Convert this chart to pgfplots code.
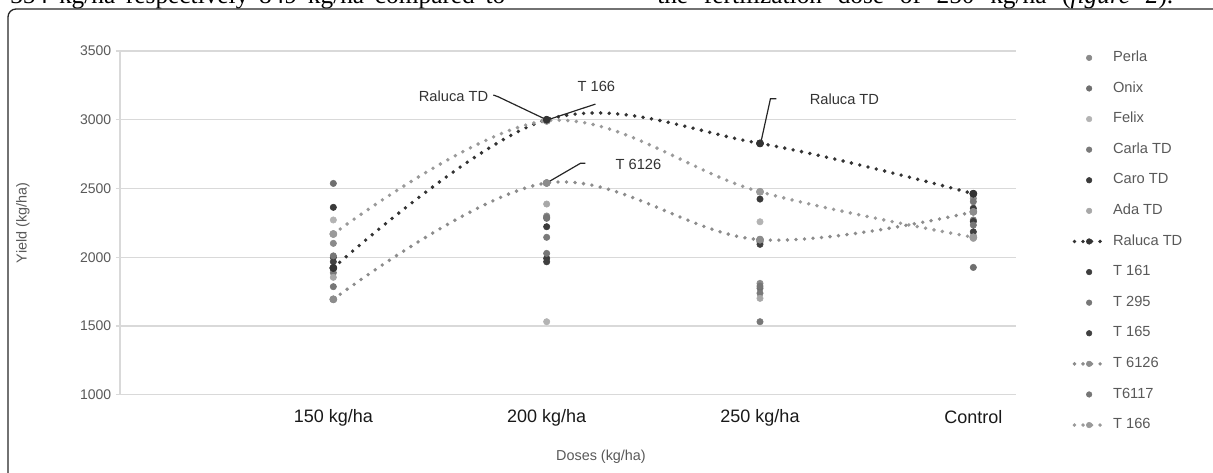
\documentclass[border=0pt]{standalone}
\usepackage{fontspec}
\setmainfont{Liberation Sans}
\newfontfamily\pagefont{Liberation Serif}
\usepackage{pgfplots}
\pgfplotsset{compat=1.18}

\definecolor{cPerla}{HTML}{8A8A8A}
\definecolor{cOnix}{HTML}{6F6F6F}
\definecolor{cFelix}{HTML}{B3B3B3}
\definecolor{cCarla}{HTML}{7A7A7A}
\definecolor{cCaro}{HTML}{3A3A3A}
\definecolor{cAda}{HTML}{A8A8A8}
\definecolor{cRaluca}{HTML}{333333}
\definecolor{cTa}{HTML}{3D3D3D}
\definecolor{cTb}{HTML}{777777}
\definecolor{cTc}{HTML}{404040}
\definecolor{cTd}{HTML}{8C8C8C}
\definecolor{cTe}{HTML}{767676}
\definecolor{cTf}{HTML}{9A9A9A}
\definecolor{txtgray}{HTML}{595959}
\definecolor{gridgray}{HTML}{D9D9D9}

\pgfplotsset{
  dot/.style={only marks, color=#1, mark=*, mark size=2.4pt,
    mark options={line width=0.4pt, draw=#1, fill=#1}},
  dotline/.style={color=#1, line width=2.9pt, line cap=round, dash pattern=on 0pt off 6.4pt,
    smooth, tension=0.6, mark=*, mark size=2.6pt,
    mark options={solid, line width=0.4pt, draw=#1, fill=#1}},
}

\begin{document}
\begin{tikzpicture}
\useasboundingbox (0,0) rectangle (909.75pt,-354pt);
\clip (0,0) rectangle (909.75pt,-354pt);
% cut-off line of the page text above the figure
\node[anchor=base west, inner sep=0pt, font=\pagefont\fontsize{19}{22}\selectfont] at (7.5pt,-2.8pt)
  {\makebox[371.25pt][s]{354 kg/ha respectively 849 kg/ha compared to}};
\node[anchor=base west, inner sep=0pt, font=\pagefont\fontsize{19}{22}\selectfont] at (492.75pt,-2.8pt)
  {\makebox[387pt][s]{the fertilization dose of 250 kg/ha (\textit{figure 2}).}};
% figure frame
\draw[line width=1pt, black!85, rounded corners=6pt] (6pt,-360pt) -- (6pt,-6.75pt) -- (915pt,-6.75pt);

\begin{axis}[
  at={(90pt,-38.25pt)}, anchor=north west,
  scale only axis, width=672pt, height=257.8pt,
  xmin=0, xmax=4.2, ymin=1000, ymax=3500,
  xtick={1,2,3,4},
  xticklabels={150 kg/ha,200 kg/ha,250 kg/ha,Control},
  ytick={1000,1500,2000,2500,3000,3500},
  axis lines*=left,
  axis line style={draw=gridgray, line width=0.8pt, -},
  ymajorgrids, grid style={draw=gridgray, line width=0.8pt},
  xtick style={draw=none},
  ytick style={draw=gridgray, line width=0.8pt},
  tick align=outside, major tick length=3pt,
  /pgf/number format/assume math mode=true,
  /pgf/number format/set thousands separator={},
  yticklabel style={font=\fontsize{10.5}{12}\selectfont, text=txtgray},
  xticklabel style={font=\fontsize{13.5}{15}\selectfont, text=black!90, anchor=center, yshift=-14pt},
  xlabel={Doses (kg/ha)}, ylabel={Yield (kg/ha)},
  every axis x label/.style={at={(axis description cs:0.5368,-0.181)}, anchor=center,
    font=\fontsize{10.8}{12}\selectfont, text=txtgray},
  every axis y label/.style={at={(axis description cs:-0.1083,0.5)}, anchor=center, rotate=90,
    font=\fontsize{10.8}{12}\selectfont, text=txtgray},
  legend image code/.code={\draw[mark repeat=2, mark phase=2, #1]
    plot coordinates {(0pt,0pt) (11pt,0pt) (22pt,0pt)};},
  legend image post style={mark size=2.1pt},
  legend cell align=left,
  legend style={at={(1.0628,1.0012)}, anchor=north west, draw=none, fill=none,
    inner sep=0pt, row sep=12.45pt, column sep=5.5pt,
    font=\fontsize{11}{13}\selectfont, text=txtgray,
    nodes={inner sep=0pt, text height=8pt, text depth=2.5pt}},
]
\addplot[dot=cPerla] coordinates {(1,2101) (2,2300) (3,1810) (4,2428)};
\addlegendentry{Perla}
\addplot[dot=cOnix] coordinates {(1,2537) (2,2283) (3,1774) (4,1926)};
\addlegendentry{Onix}
\addplot[dot=cFelix] coordinates {(1,2271) (2,1531) (3,2258) (4,2160)};
\addlegendentry{Felix}
\addplot[dot=cCarla] coordinates {(1,1887) (2,2145) (3,1738) (4,2271)};
\addlegendentry{Carla TD}
\addplot[dot=cCaro] coordinates {(1,2363) (2,2222) (3,2423) (4,2356)};
\addlegendentry{Caro TD}
\addplot[dot=cAda] coordinates {(1,1854) (2,2387) (3,1701) (4,2137)};
\addlegendentry{Ada TD}
\addplot[dotline=cRaluca] coordinates {(1,1922) (2,3000) (3,2828) (4,2462)};
\addlegendentry{Raluca TD}
\addplot[dot=cTa] coordinates {(1,1999) (2,1992) (3,2113) (4,2260)};
\addlegendentry{T 161}
\addplot[dot=cTb] coordinates {(1,1786) (2,2028) (3,1531) (4,2234)};
\addlegendentry{T 295}
\addplot[dot=cTc] coordinates {(1,1967) (2,1967) (3,2094) (4,2185)};
\addlegendentry{T 165}
\addplot[dotline=cTd] coordinates {(1,1694) (2,2540) (3,2128) (4,2330)};
\addlegendentry{T 6126}
\addplot[dot=cTe] coordinates {(1,2010) (2,2290) (3,1790) (4,2404)};
\addlegendentry{T6117}
\addplot[dotline=cTf] coordinates {(1,2169) (2,2992) (3,2476) (4,2145)};
\addlegendentry{T 166}
% data point markers of the three trend series
\addplot[dot=cTf, mark size=2.7pt, forget plot] coordinates {(1,2169) (2,2992) (3,2476) (4,2145)};
\addplot[dot=cTd, mark size=2.7pt, forget plot] coordinates {(1,1694) (2,2540) (3,2128) (4,2330)};
\addplot[dot=cRaluca, mark size=2.7pt, forget plot] coordinates {(1,1922) (2,3000) (3,2828) (4,2462)};

% data labels with leader lines
\draw[black!85, line width=0.9pt] (axis cs:1.750,3180) -- (axis cs:1.773,3167) -- (axis cs:2.002,2998);
\draw[black!85, line width=0.9pt] (axis cs:2.002,2998) -- (axis cs:2.229,3114);
\draw[black!85, line width=0.9pt] (axis cs:2.002,2542) -- (axis cs:2.158,2683) -- (axis cs:2.181,2683);
\draw[black!85, line width=0.9pt] (axis cs:3.003,2828) -- (axis cs:3.049,3153) -- (axis cs:3.077,3153);
\node[anchor=east, inner sep=0pt, font=\fontsize{11}{13}\selectfont, text=black!80] at (axis cs:1.727,3172) {Raluca TD};
\node[anchor=west, inner sep=0pt, font=\fontsize{11}{13}\selectfont, text=black!80] at (axis cs:2.144,3245) {T 166};
\node[anchor=west, inner sep=0pt, font=\fontsize{11}{13}\selectfont, text=black!80] at (axis cs:2.322,2678) {T 6126};
\node[anchor=west, inner sep=0pt, font=\fontsize{11}{13}\selectfont, text=black!80] at (axis cs:3.232,3150) {Raluca TD};
\end{axis}
\end{tikzpicture}
\end{document}
